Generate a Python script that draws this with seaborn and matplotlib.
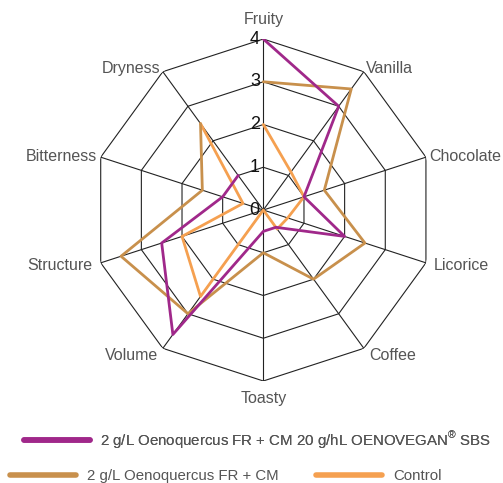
import numpy as np
import pandas as pd
import matplotlib
matplotlib.use("Agg")
import matplotlib.pyplot as plt
import seaborn as sns

# axes, clockwise from the top
attributes = ["Fruity", "Vanilla", "Chocolate", "Licorice", "Coffee",
              "Toasty", "Volume", "Structure", "Bitterness", "Dryness"]

oenovegan = [4, 3, 1, 2, 0.5, 0.5, 3.6, 2.5, 1, 1]
oenoquercus = [3, 3.5, 1.5, 2.5, 2, 1, 3, 3.5, 1.5, 2.5]
control = [2, 1.1, 1, 0.6, 0.55, 0, 2.5, 2, 0.5, 2.5]

series_names = ["2 g/L Oenoquercus FR + CM 20 g/hL OENOVEGAN$^{\\circledR}$ SBS",
                "2 g/L Oenoquercus FR + CM",
                "Control"]
levels = [0, 1, 2, 3, 4]

colors = ["#A0288A", "#C8904C", "#F5A050"]

sns.set_style("white")
plt.rcParams['font.family'] = ['Liberation Sans', 'DejaVu Sans']
plt.rcParams['mathtext.fontset'] = 'custom'
plt.rcParams['mathtext.rm'] = 'Liberation Sans'

fig = plt.figure(figsize=(5.03, 4.83), dpi=100)
ax = fig.add_axes([0.1835, 0.2112, 0.680, 0.708], projection="polar")
ax.set_theta_offset(np.pi / 2)
ax.set_theta_direction(-1)

n = len(attributes)
theta = np.arange(n) * 2 * np.pi / n
theta_closed = np.append(theta, theta[0])

# polygon grid + spokes
for lv in levels[1:]:
    ax.plot(theta_closed, [lv] * (n + 1), color="#222222", lw=0.8, zorder=1)
for t in theta:
    ax.plot([t, t], [0, levels[-1]], color="#222222", lw=0.8, zorder=1)

rows = []
for name, vals in zip(series_names, [oenovegan, oenoquercus, control]):
    for i, v in enumerate(vals + [vals[0]]):
        rows.append({"series": name, "theta": theta_closed[i], "score": v})
df = pd.DataFrame(rows)

# control first, purple last so it ends on top
for name, col, z in zip(series_names[::-1], colors[::-1], [3, 4, 5]):
    sub = df[df["series"] == name]
    sns.lineplot(data=sub, x="theta", y="score", sort=False, color=col,
                 lw=2.0, ax=ax, zorder=z, legend=False)

ax.set_ylim(0, 4)
ax.grid(False)
ax.spines["polar"].set_visible(False)
ax.set_xticks([])
ax.set_yticks([])
ax.set_xlabel("")
ax.set_ylabel("")

# level numbers along the Fruity axis
for lv in levels:
    ax.annotate(str(lv), xy=(0, lv), xytext=(-2.5, 0), textcoords="offset points",
                ha="right", va="center", fontsize=13, color="#111111", zorder=6)

# attribute labels
for t, lab in zip(theta, attributes):
    deg = np.degrees(t) % 360
    if deg < 1 or deg > 359:
        ha, va, r = "center", "bottom", 4.28
    elif abs(deg - 180) < 1:
        ha, va, r = "center", "top", 4.23
    elif deg < 90 or deg > 270:
        ha = "left" if deg < 180 else "right"
        va, r = "center", 4.08
    else:
        ha = "left" if deg < 180 else "right"
        va, r = "center", 4.2
    ax.text(t, r, lab, ha=ha, va=va, fontsize=11.5, color="#555555")

# legend: first entry alone, then two entries on a second row
h = [plt.Line2D([], [], color=c, lw=4) for c in colors]
leg1 = fig.legend([h[0]], [series_names[0]], loc="center left",
                  bbox_to_anchor=(24 / 503, 1 - 440 / 483), frameon=False,
                  fontsize=10.8, handlelength=4.4, handletextpad=0.65,
                  labelcolor="#555555", borderaxespad=0, borderpad=0)
fig.legend(h[1:], series_names[1:], loc="center left",
           bbox_to_anchor=(10 / 503, 1 - 476 / 483), frameon=False, ncol=2,
           fontsize=10.8, handlelength=4.4, handletextpad=0.75,
           columnspacing=2.5, labelcolor="#555555",
           borderaxespad=0, borderpad=0)
fig.add_artist(leg1)

fig.savefig("out.png", dpi=100)
